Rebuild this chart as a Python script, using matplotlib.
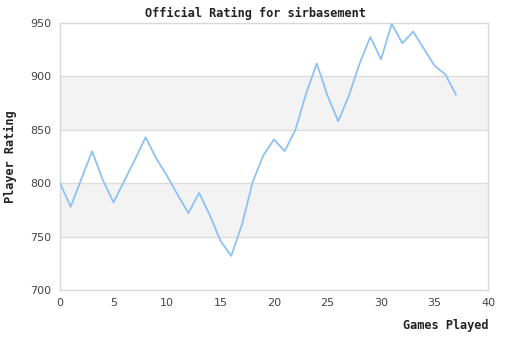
import matplotlib
matplotlib.use("Agg")
import matplotlib.pyplot as plt

# Rating after each game played
games = list(range(38))
rating = [800, 778, 804, 830, 803, 782, 802, 822, 843, 823,
          807, 789, 772, 791, 770, 746, 732, 761, 801, 826,
          841, 830, 850, 884, 912, 882, 858, 882, 912, 937,
          916, 949, 931, 942, 926, 910, 902, 883]

y_ticks = [700, 750, 800, 850, 900, 950]
x_ticks = [0, 5, 10, 15, 20, 25, 30, 35, 40]
shaded_bands = [(750, 800), (850, 900)]

W, H = 510, 340
fig = plt.figure(figsize=(W / 100, H / 100), dpi=100)
ax = fig.add_axes([60 / W, 1 - 290 / H, (488 - 60) / W, (290 - 23) / H])

for lo, hi in shaded_bands:
    ax.axhspan(lo, hi, color="#f3f3f3", lw=0, zorder=0)
for y in y_ticks[1:-1]:
    ax.axhline(y, color="#dcdcdc", lw=1, zorder=1)

ax.plot(games, rating, color="#8fc1f5", lw=1.3, zorder=3)

ax.set_xlim(0, 40)
ax.set_ylim(700, 950)
ax.set_xticks(x_ticks)
ax.set_yticks(y_ticks)
ax.tick_params(length=0, labelsize=8, colors="#444444", pad=6)
for s in ax.spines.values():
    s.set_color("#d8d8d8")
    s.set_linewidth(1)

mono = dict(family="DejaVu Sans Mono", weight="bold", size=8.6, color="#222222")
fig.text(0.5, 1 - 13 / H, "Official Rating for sirbasement",
         ha="center", va="center", **mono)
fig.text(489 / W, 1 - 326 / H, "Games Played", ha="right", va="center", **mono)
fig.text(10 / W, 1 - 157 / H, "Player Rating", rotation=90,
         ha="center", va="center", **mono)

fig.savefig("out.png", dpi=100)
